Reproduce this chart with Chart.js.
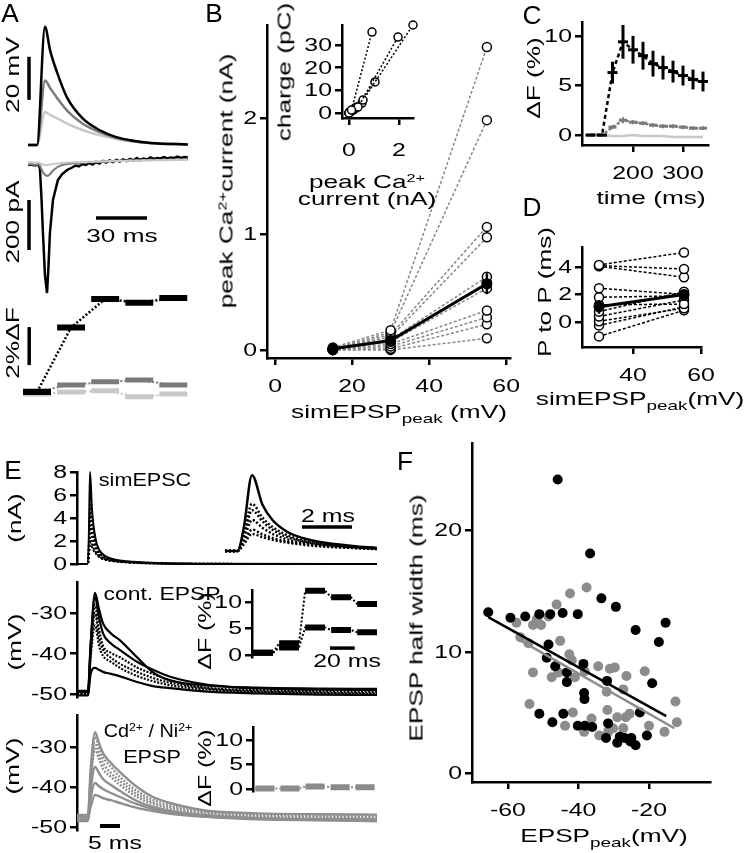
<!DOCTYPE html>
<html>
<head>
<meta charset="utf-8">
<script src="https://cdn.jsdelivr.net/npm/chart.js@4.4.1/dist/chart.umd.min.js"></script>
<style>
  html, body { margin: 0; padding: 0; background: #fff; }
  body { position: relative; width: 746px; height: 853px; overflow: hidden; font-family: "Liberation Sans", Arial, Helvetica, sans-serif; }
  canvas { position: absolute; }
  .t { position: absolute; white-space: nowrap; line-height: 1; color: #000; }
  .t sup { font-size: 0.62em; position: relative; top: -0.55em; vertical-align: baseline; }
  .t sub { font-size: 0.72em; position: relative; top: 0.35em; vertical-align: baseline; }
</style>
</head>
<body>
<script>
// ---- data ----
// A: simEPSP voltage (mV), Ca current (pA), dF (%)
const tA = [0, 5.3, 10, 13, 17, 23, 32, 42, 52, 62, 72, 94];
const aVBlack = [0, 0, 55, 44, 34, 22, 12.5, 7, 3.7, 2, 1, 0.3];
const aVGrey = [0, 0, 30, 26.5, 22, 16, 10, 6, 3.3, 1.8, 0.9, 0.3];
const aVLight = [0, 0, 15.3, 14, 12.5, 10, 7, 4.6, 2.8, 1.6, 0.8, 0.3];

const tI = [0,2,4,6,7,8,8.8,10,11.2,12,12.9,14.7,17.6,20,23,26,28,30,32,34,36,38,40,42,44,46,48,50,52,54,56,58,60,62,64,66,68,70,72,74,76,78,80,82,84,86,88,90,92,94];
const aIBlack = [-8,-6,-10,-6,-20,-150,-280,-450,-520,-420,-280,-148,-68,-45,-28,-18,-10,-14,-4,-8,0,-6,4,-2,8,2,10,4,12,6,14,8,16,10,20,12,18,14,22,16,20,18,24,18,22,20,26,20,24,22];
const aIGrey = [-6,-4,-8,-5,-10,-25,-38,-48,-52,-50,-45,-30,-15,-8,-4,-2,0,-3,2,0,4,2,6,3,8,5,8,6,10,7,10,8,12,9,12,10,13,11,14,12,13,12,14,13,15,13,15,14,15,14];
const aILight = [2,3,1,2,0,-4,-6,-8,-8,-7,-6,-4,-2,0,2,3,4,3,5,4,6,5,6,6,7,6,8,7,8,8,9,8,10,9,10,9,11,10,11,10,12,11,12,11,12,12,12,12,13,12];

const binA = [0, 1, 2, 3, 4];
const dfBlack = [0, 3.4, 4.9, 4.7, 4.95];
const dfGrey = [0.05, 0.37, 0.54, 0.63, 0.37];
const dfLight = [-0.1, 0, 0.07, -0.25, -0.1];

// B: peak Ca current vs simEPSP peak
const bX = [15, 30, 55];
const b15 = [0.02, 0.01, 0.01, 0.01, 0, 0, 0, 0, 0, 0, 0];
const b30 = [0.17, 0.15, 0.13, 0.11, 0.09, 0.08, 0.07, 0.05, 0.03, 0.01, 0];
const b55 = [2.61, 1.98, 1.06, 0.97, 0.63, 0.58, 0.53, 0.34, 0.28, 0.22, 0.10];
const bMean = [0.01, 0.08, 0.57];
const bErr = [0.01, 0.02, 0.09];
// B inset: charge vs peak current
const insX = [[0, 0.1, 0.92], [0.02, 0.36, 1.96], [0.04, 0.56, 2.56], [0, 0.24, 1.04], [0, 0.2, 0.52], [0, 0.1, 0.3]];
const insY = [[0, 1.3, 35.7], [0.4, 2.6, 33.5], [0.5, 5.7, 38.8], [0, 2.2, 13.7], [0, 1.5, 4.4], [0, 0.8, 2.5]];

// C: dF time course
const tC = [115, 138, 159, 180, 200, 220, 240, 260, 280, 300, 320, 340];
const cBlack = [0, 0, 6.3, 9.4, 8.6, 8.0, 7.2, 6.8, 6.4, 6.0, 5.6, 5.4];
const cBlackErr = [0.1, 0.1, 1.1, 1.7, 1.4, 1.4, 1.3, 1.2, 1.1, 1.0, 1.0, 1.0];
const cGrey = [0, 0, 0.8, 1.5, 1.3, 1.2, 1.0, 0.9, 0.9, 0.8, 0.7, 0.7];
const cGreyErr = [0, 0, 0.2, 0.3, 0.2, 0.2, 0.2, 0.2, 0.2, 0.2, 0.2, 0.2];
const cLight = [0, 0, -0.1, -0.1, 0, -0.1, -0.1, -0.1, -0.2, -0.2, -0.2, -0.2];

// D: peak to peak
const dX = [30, 55];
const d30 = [4.15, 4.1, 4.05, 2.45, 1.8, 1.25, 0.75, 0.4, 0.05, -0.25, -1.05];
const d55 = [5.05, 3.85, 3.25, 2.0, 1.9, 1.3, 2.2, 1.6, 1.0, 1.1, 0.85];
const dMean = [1.1, 2.0];
const dErr = [0.5, 0.4];

// E top: simEPSC (nA)
const tE1 = [0, 2.7, 3.0, 3.25, 3.7, 4.1, 4.7, 5.3, 6.0, 7.5, 10, 14, 20, 30, 75];
const e1Solid = [0, 0, 3, 8, 5, 3.4, 2.1, 1.4, 1.0, 0.6, 0.35, 0.2, 0.08, 0.02, 0];
const e1Dots = [
  [0, 0, 2, 5.1, 3.6, 2.6, 1.7, 1.15, 0.8, 0.5, 0.3, 0.17, 0.07, 0.02, 0],
  [0, 0, 1.7, 4.4, 3.2, 2.3, 1.5, 1.05, 0.75, 0.45, 0.28, 0.15, 0.06, 0.02, 0],
  [0, 0, 1.3, 3.35, 2.5, 1.85, 1.25, 0.9, 0.65, 0.4, 0.25, 0.13, 0.05, 0.01, 0],
  [0, 0, 0.9, 2.3, 1.8, 1.4, 1.0, 0.75, 0.55, 0.35, 0.22, 0.12, 0.05, 0.01, 0],
  [0, 0, 0.7, 1.85, 1.5, 1.2, 0.9, 0.68, 0.5, 0.32, 0.2, 0.1, 0.04, 0.01, 0]
];
const tEi = [0, 0.5, 0.75, 1.08, 1.5, 1.9, 2.5, 3.1, 3.8, 5.1, 6.08];
const eiSolid = [0, 0, 2.5, 8.2, 5.0, 3.35, 2.05, 1.4, 0.97, 0.54, 0.32];
const eiDots = [
  [0, 0, 1.8, 5.1, 3.6, 2.6, 1.7, 1.15, 0.8, 0.45, 0.28],
  [0, 0, 1.5, 4.4, 3.2, 2.3, 1.5, 1.05, 0.75, 0.42, 0.26],
  [0, 0, 1.2, 3.35, 2.5, 1.85, 1.25, 0.9, 0.65, 0.38, 0.24],
  [0, 0, 0.9, 2.3, 1.8, 1.4, 1.0, 0.75, 0.55, 0.34, 0.22],
  [0, 0, 0.7, 1.85, 1.5, 1.2, 0.9, 0.68, 0.5, 0.32, 0.2]
];

// E middle / bottom: EPSPs (mV)
const tE = [0, 2.75, 3.4, 4.5, 5.5, 6.5, 8.5, 10.75, 15, 19, 23.3, 31.6, 45, 60, 75];
const e2Traces = [
  [-49.2,-49.2,-38,-25,-29,-32.5,-35,-36.7,-40.9,-44.6,-46.6,-47.8,-48.4,-48.6,-48.7],
  [-49.5,-49.5,-38,-26,-31,-35,-37.5,-39.1,-42,-44,-45.7,-47.5,-48.6,-48.9,-49.0],
  [-49.8,-49.8,-39,-28,-34,-38,-39.8,-40.9,-43.4,-45,-46.6,-48.3,-49,-49.3,-49.4],
  [-50.1,-50.1,-40,-30,-36,-39,-41,-42.5,-44.5,-46,-47.2,-48.5,-49.3,-49.6,-49.7],
  [-49.6,-49.6,-41,-33,-38,-40.5,-42,-43.5,-45.5,-46.8,-47.8,-48.8,-49.5,-49.8,-50.0],
  [-50.3,-50.3,-45,-43.5,-44,-44.5,-45,-45.6,-47,-48,-48.5,-49.3,-49.8,-50.1,-50.2]
];
const e3Traces = [
  [-47.0,-47.0,-36,-26.3,-29,-31.5,-34,-36.3,-40,-42.5,-44,-45.8,-46.6,-46.8,-46.9],
  [-47.3,-47.3,-37,-27.5,-30,-32.5,-35,-37.5,-41,-43.2,-44.5,-46,-46.9,-47.1,-47.2],
  [-47.6,-47.6,-38,-29,-31.5,-34,-36.5,-38.5,-41.8,-43.8,-45,-46.3,-47.2,-47.4,-47.5],
  [-47.9,-47.9,-39,-30.5,-33,-35.5,-37.5,-39.5,-42.5,-44.3,-45.5,-46.6,-47.5,-47.7,-47.8],
  [-48.2,-48.2,-41,-35,-36.5,-38,-39.5,-41,-43.5,-45,-46,-47,-47.8,-48,-48.1],
  [-48.5,-48.5,-43,-39,-39.8,-40.5,-41.5,-42.5,-44.3,-45.5,-46.3,-47.3,-48.1,-48.3,-48.4],
  [-47.5,-47.5,-45,-42,-42.3,-42.8,-43.3,-44,-45.2,-46,-46.7,-47.4,-47.9,-48.2,-48.6]
];
const eBins = [0, 21, 42, 63, 84];
const e2Up = [0.4, 2.2, 12.1, 10.9, 9.6];
const e2Lo = [0.4, 1.4, 5.2, 4.7, 4.3];
const e3Vals = [0.1, 0.1, 0.5, 0.35, 0.35];

// F: EPSP half width vs EPSP peak
const fBlackX = [-65.6,-59.3,-55.1,-51.1,-48.0,-44.5,-40.2,-45.9,-36.7,-33.5,-29.4,-23.8,-17.2,-15.3,-48.5,-49.0,-46.6,-43.3,-43.3,-38.6,-38.4,-38.3,-31.9,-19.1,-51.1,-47.4,-44.3,-40.2,-38.2,-36.1,-31.6,-32.2,-29.0,-28.3,-26.9,-25.3,-25.0,-23.8,-22.6,-20.6];
const fBlackY = [13.25,12.8,12.9,13.1,13.1,13.2,13.1,24.2,18.1,14.4,13.7,11.8,10.8,12.4,10.6,9.5,8.8,8.3,7.5,9.0,6.6,6.1,7.6,7.4,4.9,4.2,4.9,3.9,3.9,3.8,4.1,2.9,2.5,3.0,2.9,2.6,2.9,2.3,5.0,3.1];
const fGreyX = [-57.6,-52.9,-51.8,-50.6,-48.5,-46.2,-42.4,-37.7,-56.5,-54.2,-45.2,-42.6,-41.9,-52.9,-47.6,-45.7,-41.0,-38.2,-34.4,-31.1,-29.7,-26.4,-21.2,-27.3,-32.0,-53.9,-41.6,-43.8,-38.4,-36.3,-34.1,-31.6,-30.2,-29.0,-31.8,-27.3,-26.6,-25.5,-20.0,-15.6,-12.5,-12.1];
const fGreyY = [12.4,12.2,12.7,12.2,12.9,13.9,14.8,15.3,11.2,10.7,10.9,9.8,9.3,8.3,7.9,8.3,7.9,8.4,8.8,8.6,8.7,8.0,8.4,6.9,6.7,5.7,5.0,3.9,3.4,4.5,3.1,3.4,3.7,4.6,5.2,3.7,4.6,4.9,3.9,3.4,5.9,4.2];
const fFitBX = [-65.6, -15.1], fFitBY = [12.85, 4.7];
const fFitGX = [-57.5, -12.8], fFitGY = [11.1, 3.7];

// ---- setup ----
const FONT = '"Liberation Sans", Arial, Helvetica, sans-serif';
const SX = 1.38;          // text in the figure is wide
const P = 24, YW = 50, XH = 40;
const GREY = '#7a7a7a', LIGHT = '#c8c8c8';

Chart.defaults.animation = false;
Chart.defaults.responsive = false;
Chart.defaults.plugins.legend.display = false;
Chart.defaults.plugins.tooltip.enabled = false;
Chart.defaults.font.family = FONT;

// error bars and scale bars, in data units
const extras = {
  id: 'extras',
  afterDatasetsDraw(chart, args, opts) {
    const { ctx } = chart;
    const x = chart.scales.x, y = chart.scales.y;
    ctx.save();
    ctx.lineCap = 'butt';
    (opts.errors || []).forEach(e => {
      const pts = chart.data.datasets[e.ds].data;
      ctx.strokeStyle = e.color;
      ctx.lineWidth = e.width;
      pts.forEach((p, i) => {
        if (!e.err[i]) return;
        const px = x.getPixelForValue(p.x);
        ctx.beginPath();
        ctx.moveTo(px, y.getPixelForValue(p.y - e.err[i]));
        ctx.lineTo(px, y.getPixelForValue(p.y + e.err[i]));
        ctx.stroke();
      });
    });
    (opts.bars || []).forEach(b => {
      ctx.strokeStyle = '#000';
      ctx.lineWidth = b.w || 3.5;
      ctx.beginPath();
      ctx.moveTo(x.getPixelForValue(b.x), y.getPixelForValue(b.y));
      ctx.lineTo(x.getPixelForValue(b.x + (b.dx || 0)), y.getPixelForValue(b.y + (b.dy || 0)));
      ctx.stroke();
    });
    ctx.restore();
  }
};

// tick labels, stretched like the figure's font
const tickText = {
  id: 'tickText',
  afterDraw(chart, args, opts) {
    const ctx = chart.ctx;
    ctx.save();
    ctx.fillStyle = '#000';
    ctx.font = '18px ' + FONT;
    Object.values(chart.scales).forEach(s => {
      if (s.options.display !== true) return;
      s.ticks.forEach(t => {
        const p = s.getPixelForValue(t.value);
        ctx.save();
        if (s.isHorizontal()) {
          ctx.translate(p, s.top + (opts.xOff || 34));
          ctx.textAlign = 'center';
          ctx.textBaseline = 'alphabetic';
        } else {
          ctx.translate(s.right - 10, p + 1);
          ctx.textAlign = 'right';
          ctx.textBaseline = 'middle';
        }
        ctx.scale(SX, 1);
        ctx.fillText(String(t.value), 0, 0);
        ctx.restore();
      });
    });
    ctx.restore();
  }
};
Chart.register(extras, tickText);

function axis(min, max, ticks, horizontal) {
  if (!ticks) return { type: 'linear', min, max, display: false };
  return {
    type: 'linear', min, max, display: true,
    position: horizontal ? 'bottom' : 'left',
    afterBuildTicks: s => { s.ticks = ticks.map(v => ({ value: v })); },
    afterFit: s => { if (horizontal) s.height = XH; else s.width = YW; },
    border: { display: true, color: '#000', width: 2.5 },
    grid: { drawOnChartArea: false, drawTicks: true, tickLength: 7, color: '#000', lineWidth: 2.5 },
    ticks: { display: false }
  };
}

// area = chart area in page pixels [left, top, right, bottom]
function chart(area, xs, ys, datasets, extra, tickOpts) {
  const [x0, y0, x1, y1] = area;
  const yw = ys.display ? YW : 0, xh = xs.display ? XH : 0;
  const c = document.createElement('canvas');
  const w = x1 - x0 + 2 * P + yw, h = y1 - y0 + 2 * P + xh;
  c.width = w; c.height = h;
  c.style.left = (x0 - P - yw) + 'px';
  c.style.top = (y0 - P) + 'px';
  c.style.width = w + 'px';
  c.style.height = h + 'px';
  document.body.appendChild(c);
  return new Chart(c, {
    type: 'scatter',
    data: { datasets },
    options: {
      devicePixelRatio: 1,
      layout: { padding: P },
      scales: { x: xs, y: ys },
      plugins: { extras: extra || {}, tickText: tickOpts || {} },
      elements: { point: { radius: 0 } }
    }
  });
}

const xy = (xs, ys) => xs.map((x, i) => ({ x, y: ys[i] }));
function segs(centers, vals, hw) {
  const out = [];
  centers.forEach((c, i) => out.push({ x: c - hw, y: vals[i] }, { x: c + hw, y: vals[i] }, { x: c + hw, y: null }));
  return out;
}
function steps(centers, vals, hw) {
  const out = [];
  centers.forEach((c, i) => out.push({ x: c - hw, y: vals[i] }, { x: c + hw, y: vals[i] }));
  return out;
}
function line(data, color, width, dash, more) {
  return Object.assign({
    data, showLine: true, borderColor: color, borderWidth: width, borderDash: dash || [],
    borderCapStyle: 'butt', pointRadius: 0, clip: false, tension: 0
  }, more || {});
}
const MONO = { cubicInterpolationMode: 'monotone' };
const OPEN = { pointRadius: 4.5, pointBackgroundColor: '#fff', pointBorderColor: '#000', pointBorderWidth: 1.5 };
const OPEN_S = { pointRadius: 4, pointBackgroundColor: '#fff', pointBorderColor: '#000', pointBorderWidth: 1.5 };
const FILLED = { pointRadius: 5.5, pointBackgroundColor: '#000', pointBorderColor: '#000', pointBorderWidth: 0 };

function txt(html, cx, cy, size, rot, sx) {
  const d = document.createElement('div');
  d.className = 't';
  d.innerHTML = html;
  d.style.left = cx + 'px';
  d.style.top = cy + 'px';
  d.style.fontSize = size + 'px';
  d.style.transform = 'translate(-50%,-50%)' + (rot ? ' rotate(-90deg)' : '') + ' scaleX(' + (sx || SX) + ')';
  document.body.appendChild(d);
}

// ---- A ----
chart([20, 20, 190, 150], axis(-4.7, 95.3), axis(-2.3, 58.1), [
  line(xy(tA, aVBlack), '#000', 2.5, [], MONO),
  line(xy(tA, aVGrey), GREY, 2.5, [], MONO),
  line(xy(tA, aVLight), LIGHT, 2.5, [], MONO)
], { bars: [{ x: 0.6, y: 21, dy: 20 }] });

chart([20, 150, 190, 300], axis(-4.7, 95.3), axis(-548, 52), [
  line(xy(tI, aILight), LIGHT, 2),
  line(xy(tI, aIGrey), GREY, 2),
  line(xy(tI, aIBlack), '#000', 2.5)
], { bars: [{ x: 0.6, y: -348, dy: 200 }, { x: 40, y: -220, dx: 30 }] });

chart([20, 290, 190, 405], axis(-0.5, 4.49), axis(-0.68, 5.37), [
  line(segs(binA, dfBlack, 0.41), '#000', 6),
  line(xy(binA, dfBlack), '#000', 2.5, [2, 2]),
  line(segs(binA, dfGrey, 0.41), GREY, 5),
  line(xy(binA, dfGrey), GREY, 2, [2, 2]),
  line(segs(binA, dfLight, 0.41), LIGHT, 5),
  line(xy(binA, dfLight), LIGHT, 2, [2, 2])
], { bars: [{ x: -0.23, y: 1.42, dy: 2 }] });

// ---- B ----
const bSets = [line(xy(bX, bMean), '#000', 3, [], FILLED)];
b55.forEach((v, i) => bSets.push(line(xy(bX, [b15[i], b30[i], v]), '#888', 1.5, [3, 2], OPEN)));
chart([267, 25, 510, 358], axis(-2.1, 61, [0, 20, 40, 60], true), axis(-0.07, 2.8, [0, 1, 2]), bSets,
  { errors: [{ ds: 0, err: bErr, color: '#000', width: 2.5 }] });

chart([342, 25, 413, 118], axis(-0.28, 2.56, [0, 2], true), axis(-2.2, 38.8, [0, 10, 20, 30]),
  insX.map((xs, i) => line(xy(xs, insY[i]), '#000', 1.5, [2, 2], OPEN_S)), {}, { xOff: 38 });

// ---- C ----
chart([582, 22, 708, 145], axis(98, 350, [200, 300], true), axis(-1, 11.4, [0, 5, 10]), [
  line(xy(tC, cBlack), '#000', 2.5, [4, 3], { pointStyle: 'line', pointRadius: 5, pointBorderWidth: 3, pointBorderColor: '#000' }),
  line(xy(tC, cGrey), GREY, 2.5, [3, 2], { pointStyle: 'line', pointRadius: 4, pointBorderWidth: 3, pointBorderColor: GREY }),
  line(xy(tC, cLight), LIGHT, 2.5)
], { errors: [{ ds: 0, err: cBlackErr, color: '#000', width: 3 }, { ds: 1, err: cGreyErr, color: GREY, width: 2 }] });

// ---- D ----
const dSets = [line(xy(dX, dMean), '#000', 3, [], FILLED)];
d30.forEach((v, i) => dSets.push(line(xy(dX, [v, d55[i]]), '#000', 1.5, [3, 2], OPEN)));
chart([582, 247, 701, 347], axis(25, 60, [40, 60], true), axis(-1.82, 5.45, [0, 2, 4]), dSets,
  { errors: [{ ds: 0, err: dErr, color: '#000', width: 2.5 }] });

// ---- E ----
chart([77, 472, 378, 564], axis(0, 75.25), axis(0, 8, [0, 2, 4, 6, 8]), [
  line(xy(tE1, e1Solid), '#000', 2, [], MONO),
  ...e1Dots.map(v => line(xy(tE1, v), '#000', 2, [2, 2], MONO))
]);
chart([225, 470, 377, 553], axis(0, 6.08), axis(-0.22, 8.76), [
  line(xy(tEi, eiSolid), '#000', 2.5, [], MONO),
  ...eiDots.map(v => line(xy(tEi, v), '#000', 2.5, [2, 2], MONO))
], { bars: [{ x: 3.08, y: 2.6, dx: 2 }] });

chart([77, 582, 378, 697], axis(0, 75.25), axis(-50.7, -22.3, [-50, -40, -30]),
  e2Traces.map((v, i) => line(xy(tE, v), '#000', 2.2, (i >= 2 && i <= 4) ? [2, 1.5] : [], MONO)));
chart([252, 590, 380, 657], axis(-8.9, 94.4), axis(-0.38, 12.26, [0, 5, 10]), [
  line(segs(eBins, e2Up, 8), '#000', 6),
  line(segs(eBins, e2Lo, 8), '#000', 6),
  line(steps(eBins, e2Up, 8), '#000', 2, [2, 2]),
  line(steps(eBins, e2Lo, 8), '#000', 2, [2, 2])
], { bars: [{ x: 54, y: 1.3, dx: 20 }] });

chart([77, 715, 378, 830], axis(0, 75.25), axis(-50.75, -22, [-50, -40, -30]),
  e3Traces.map((v, i) => line(xy(tE, v), '#8f8f8f', 2.4, (i >= 1 && i <= 3) ? [2, 1.5] : [], MONO)),
  { bars: [{ x: 5.75, y: -49.75, dx: 5, w: 4 }] });
chart([253, 727, 377, 791], axis(-10, 94), axis(-0.41, 12.65, [0, 5, 10]), [
  line(segs(eBins, e3Vals, 8), '#8a8a8a', 6),
  line(steps(eBins, e3Vals, 8), '#8a8a8a', 2, [2, 2])
]);

// ---- F ----
chart([472, 443, 710, 782], axis(-70.2, -2.7, [-60, -40, -20], true), axis(-0.73, 27.2, [0, 10, 20]), [
  line(xy(fFitBX, fFitBY), '#000', 2.5),
  line(xy(fFitGX, fFitGY), '#8c8c8c', 2.5),
  { data: xy(fBlackX, fBlackY), pointRadius: 5, pointBackgroundColor: '#000', pointBorderWidth: 0, clip: false },
  { data: xy(fGreyX, fGreyY), pointRadius: 5, pointBackgroundColor: '#8c8c8c', pointBorderWidth: 0, clip: false }
]);

// ---- text ----
[['A', 10, 13], ['B', 214, 13], ['C', 532, 15], ['D', 532, 207], ['E', 13, 470], ['F', 405, 461]]
  .forEach(([s, x, y]) => txt(s, x, y, 25, false, 1.05));

txt('20 mV', 12, 75, 19, true);
txt('200 pA', 12, 222, 19, true);
txt('30 ms', 122, 235, 19);
txt('2%\u0394F', 12, 343, 19, true);

txt('peak Ca<sup>2+</sup>current (nA)', 226, 181, 19, true);
txt('simEPSP<sub>peak</sub> (mV)', 399, 411, 19);
txt('charge (pC)', 284, 72, 19, true);
txt('peak Ca<sup>2+</sup>', 367, 181, 19);
txt('current (nA)', 367, 198, 19);

txt('\u0394F (%)', 533, 78, 19, true);
txt('time (ms)', 651, 197, 19);

txt('P to P (ms)', 544, 292, 19, true);
txt('simEPSP<sub>peak</sub>(mV)', 640, 398, 19);

txt('(nA)', 14, 518, 19, true);
txt('(mV)', 14, 642, 19, true);
txt('(mV)', 12, 766, 19, true);
txt('simEPSC', 145, 480, 18, false, 1.2);
txt('cont. EPSP', 162, 594, 18, false, 1.27);
txt('Cd<sup>2+</sup> / Ni<sup>2+</sup>', 148, 731, 18, false, 1.1);
txt('EPSP', 152, 757, 18, false, 1.2);
txt('\u0394F (%)', 205, 631, 18, true);
txt('\u0394F (%)', 205, 768, 18, true);
txt('2 ms', 328, 516, 18);
txt('20 ms', 347, 661, 18);
txt('5 ms', 115, 843, 18);

txt('EPSP half width (ms)', 416, 618, 19, true);
txt('EPSP<sub>peak</sub>(mV)', 604, 835, 19);
</script>
</body>
</html>
